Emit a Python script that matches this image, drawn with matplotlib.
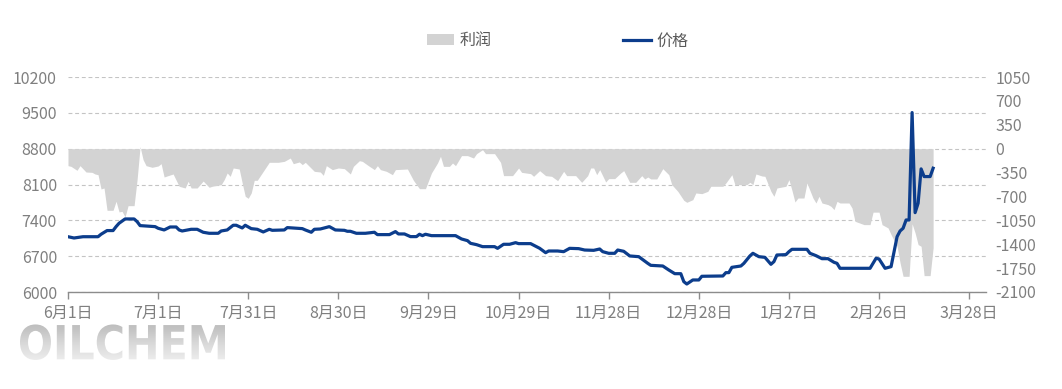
import numpy as np
import pandas as pd
import matplotlib
matplotlib.use("Agg")
import matplotlib.pyplot as plt
from matplotlib.textpath import TextPath
from matplotlib.patches import PathPatch
from matplotlib.font_manager import FontProperties
import matplotlib.transforms as mtransforms

plt.rcParams['font.family'] = ['Noto Sans CJK SC', 'DejaVu Sans']

start_date = "2022-06-01"

# price series (day offset from 6月1日, value)
price_day = [0, 2, 5, 10, 11, 13, 15, 16, 17, 19, 22, 23, 24, 29, 30, 32, 34, 36, 37, 38,
             41, 43, 45, 47, 50, 51, 53, 55, 56, 58, 59, 61, 63, 65, 67, 68, 72, 73, 78, 79,
             81, 82, 84, 87, 88, 89, 92, 93, 94, 96, 99, 102, 103, 107, 109, 110, 112, 114, 116, 117,
             118, 119, 121, 129, 131, 133, 134, 136, 138, 142, 143, 145, 147, 149, 150, 154, 157, 159, 160, 163,
             165, 167, 170, 172, 175, 177, 178, 180, 182, 183, 185, 187, 190, 193, 194, 198, 200, 202, 204, 205,
             206, 208, 210, 211, 218, 219, 220, 221, 224, 225, 227, 228, 230, 232, 234, 235, 236, 239, 240, 241,
             246, 247, 249, 251, 253, 255, 256, 257, 267, 269, 270, 272, 274, 275, 276, 277, 278, 279, 280, 281,
             282, 283, 284, 285, 287, 288]
price_val = [7080, 7055, 7080, 7080, 7128, 7200, 7200, 7277, 7343, 7427, 7427, 7375, 7297, 7277, 7245, 7212, 7270, 7270, 7212, 7192,
             7225, 7225, 7167, 7147, 7147, 7192, 7212, 7304, 7304, 7251, 7304, 7238, 7225, 7173, 7225, 7205, 7212, 7258, 7238, 7212,
             7167, 7225, 7231, 7277, 7245, 7212, 7205, 7186, 7186, 7147, 7147, 7167, 7121, 7121, 7180, 7134, 7134, 7082, 7082, 7128,
             7101, 7128, 7101, 7101, 7036, 7003, 6951, 6925, 6886, 6886, 6853, 6932, 6932, 6964, 6945, 6945, 6854, 6768, 6801, 6801,
             6788, 6853, 6847, 6820, 6814, 6840, 6788, 6756, 6756, 6820, 6795, 6704, 6690, 6560, 6521, 6508, 6430, 6358, 6358, 6202,
             6156, 6235, 6235, 6307, 6313, 6378, 6378, 6482, 6508, 6560, 6704, 6756, 6690, 6677, 6541, 6593, 6723, 6730, 6788, 6834,
             6834, 6756, 6710, 6651, 6651, 6580, 6560, 6463, 6463, 6659, 6645, 6463, 6495, 6788, 7081, 7192, 7245, 7407, 7407, 9505,
             7550, 7734, 8405, 8255, 8255, 8418]

# profit series (day offset from 6月1日, value)
profit_day = [0, 1, 3, 4, 6, 8, 9, 10, 11, 12, 13, 15, 16, 17, 18, 19, 20, 22, 23, 24,
              25, 26, 28, 30, 31, 32, 33, 35, 37, 39, 40, 41, 43, 45, 47, 48, 51, 52, 53, 54,
              55, 57, 58, 59, 60, 61, 62, 63, 65, 67, 70, 72, 74, 75, 77, 78, 79, 82, 84, 85,
              86, 88, 90, 92, 94, 95, 97, 98, 100, 102, 103, 104, 106, 108, 109, 113, 115, 117, 119, 121,
              123, 124, 125, 127, 128, 129, 131, 133, 135, 136, 138, 139, 142, 143, 144, 145, 148, 150, 151, 154,
              155, 157, 159, 161, 163, 165, 166, 169, 171, 173, 174, 175, 176, 177, 179, 180, 182, 184, 185, 187,
              189, 191, 192, 193, 194, 196, 198, 200, 201, 203, 205, 206, 208, 209, 211, 213, 214, 218, 219, 221,
              222, 226, 227, 228, 229, 231, 232, 234, 235, 236, 239, 240, 241, 242, 243, 245, 246, 248, 249, 250,
              251, 253, 254, 255, 256, 257, 260, 261, 262, 265, 267, 268, 270, 271, 273, 274, 276, 277, 278, 280,
              281, 282, 283, 284, 285, 287, 288]
profit_val = [-249, -259, -317, -249, -342, -347, -371, -381, -591, -576, -903, -903, -771, -927, -918, -1000, -835, -835, -454, 30,
              -161, -249, -273, -254, -220, -415, -400, -371, -551, -576, -479, -576, -576, -474, -566, -551, -527, -454, -356, -405,
              -283, -298, -503, -698, -727, -649, -464, -464, -332, -200, -200, -186, -137, -220, -195, -234, -200, -332, -342, -391,
              -249, -307, -283, -293, -371, -259, -176, -186, -249, -307, -249, -307, -332, -381, -307, -298, -464, -586, -586, -356,
              -210, -112, -259, -259, -210, -249, -102, -102, -137, -73, -15, -73, -73, -137, -200, -395, -395, -283, -347, -366,
              -405, -322, -395, -405, -469, -332, -395, -395, -493, -395, -283, -283, -381, -307, -488, -439, -439, -356, -322, -493,
              -493, -395, -444, -415, -444, -444, -293, -381, -527, -625, -757, -786, -747, -649, -659, -625, -551, -551, -503, -381,
              -527, -527, -493, -527, -371, -400, -405, -625, -698, -576, -551, -454, -610, -781, -723, -723, -503, -723, -796, -698,
              -796, -820, -845, -893, -772, -796, -796, -869, -1064, -1113, -1113, -930, -930, -1113, -1161, -1259, -1430, -1674, -1870, -1870,
              -1100, -1234, -1405, -1430, -1860, -1860, -1450]

x_tick_day = [0, 30, 60, 90, 120, 150, 180, 210, 240, 270, 300]
x_tick_labels = ["6月1日", "7月1日", "7月31日", "8月30日", "9月29日", "10月29日",
                 "11月28日", "12月28日", "1月27日", "2月26日", "3月28日"]
left_ticks = [6000, 6700, 7400, 8100, 8800, 9500, 10200]
right_ticks = [-2100, -1750, -1400, -1050, -700, -350, 0, 350, 700, 1050]

series_names = ["利润", "价格"]
watermark = "OILCHEM"

t0 = pd.Timestamp(start_date)
price_x = t0 + pd.to_timedelta(price_day, unit="D")
profit_x = t0 + pd.to_timedelta(profit_day, unit="D")
tick_x = t0 + pd.to_timedelta(x_tick_day, unit="D")

W, H = 1062, 389
fig = plt.figure(figsize=(W / 100, H / 100), dpi=100)
ax = fig.add_axes([68 / W, 1 - 292 / H, (986 - 68) / W, (292 - 77) / H])
ax2 = ax.twinx()
ax3 = ax.twinx()
ax.set_zorder(1)
ax2.set_zorder(2)
ax3.set_zorder(3)
for a in (ax2, ax3):
    a.patch.set_visible(False)

label_color = "#7f7f7f"
fs = 11.5

# left axis: grid + labels
ax.set_ylim(6000, 10200)
ax.set_yticks(left_ticks)
ax.set_yticklabels([str(v) for v in left_ticks])
ax.grid(axis="y", color="#c4c4c4", linestyle=(0, (3.5, 2.5)), linewidth=0.8)
ax.tick_params(axis="y", length=0, pad=8, labelsize=fs, labelcolor=label_color)
ax.set_xlim(t0, t0 + pd.Timedelta(days=305.6))
ax.set_xticks(tick_x)
ax.set_xticklabels(x_tick_labels)
ax.tick_params(axis="x", length=5, width=1, color="#8c8c8c", labelsize=fs,
               labelcolor=label_color, pad=4)
for s in ("left", "right", "top"):
    ax.spines[s].set_visible(False)
ax.spines["bottom"].set_color("#8c8c8c")
ax.spines["bottom"].set_linewidth(1)

# right axis: profit area
ax2.set_ylim(-2100, 1050)
ax2.set_yticks(right_ticks)
ax2.set_yticklabels([str(v) for v in right_ticks])
ax2.tick_params(axis="y", length=0, pad=7, labelsize=fs, labelcolor=label_color)
area = ax2.fill_between(profit_x, 0, profit_val, color="#d3d3d3", linewidth=0,
                        label=series_names[0])
for s in ax2.spines.values():
    s.set_visible(False)

# price line
ax3.set_ylim(6000, 10200)
ax3.set_yticks([])
line, = ax3.plot(price_x, price_val, color="#0c3d8c", linewidth=2.3,
                 solid_joinstyle="round", label=series_names[1])
for s in ax3.spines.values():
    s.set_visible(False)
ax3.tick_params(axis="y", length=0)

fig.legend([area, line], series_names, loc="center", ncol=2,
           bbox_to_anchor=(0.525, 0.895), frameon=False, fontsize=fs,
           columnspacing=8.2, handlelength=1.75, handletextpad=0.35,
           labelcolor="#595959")

# watermark with vertical gray gradient
wax = fig.add_axes([0, 0, 1, 1], zorder=-5)
wax.set_xlim(0, W)
wax.set_ylim(0, H)
wax.axis("off")
fp = FontProperties(family=["Liberation Sans Narrow", "DejaVu Sans"], weight="bold")
tp = TextPath((0, 0), watermark, size=47, prop=fp)
bb = tp.get_extents()
sx = 205 / bb.width
wtrans = mtransforms.Affine2D().translate(-bb.x0, -bb.y0).scale(sx, 1.0).translate(20, 29) + wax.transData
wpatch = PathPatch(tp, transform=wtrans, facecolor="none", edgecolor="none")
wax.add_patch(wpatch)
gim = wax.imshow(np.linspace(0, 1, 64).reshape(-1, 1), extent=(15, 230, 29, 29 + bb.height + 2),
                 cmap="Greys", vmin=-0.6, vmax=3.5, origin="lower", aspect="auto")
gim.set_clip_path(wpatch)

fig.savefig("out.png", dpi=100)
